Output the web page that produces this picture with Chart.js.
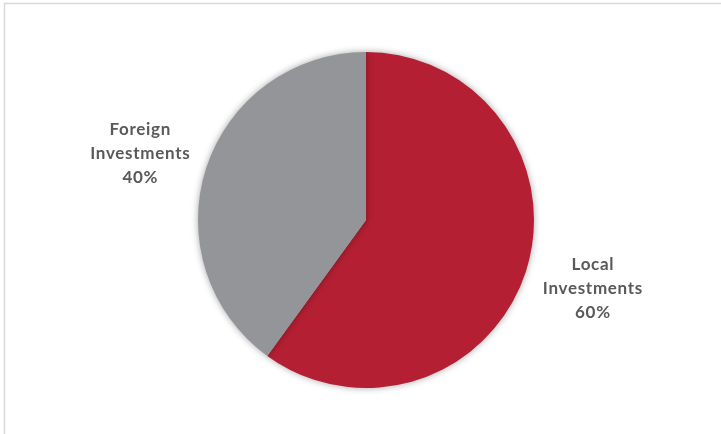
<!DOCTYPE html>
<html>
<head>
<meta charset="utf-8">
<script src="https://cdn.jsdelivr.net/npm/chart.js@4/dist/chart.umd.min.js"></script>
<style>
  html, body { margin: 0; padding: 0; background: #fff; }
  #wrap { width: 721px; height: 434px; position: relative; }
</style>
</head>
<body>
<div id="wrap"><canvas id="c" width="721" height="434"></canvas></div>
<script>
const categories = ["Local Investments", "Foreign Investments"];
const labelLines = [["Local", "Investments"], ["Foreign", "Investments"]];
const values = [60, 40];
const colors = ["#B51F33", "#939598"];

// label placement per slice: [angle in degrees clockwise from top, distance as fraction of radius]
const labelPlacement = [[106.7, 1.41], [286.3, 1.40]];

const framePlugin = {
  id: 'frame',
  beforeDraw(chart) {
    const ctx = chart.ctx;
    ctx.save();
    ctx.fillStyle = '#ffffff';
    ctx.fillRect(0, 0, chart.width, chart.height);
    ctx.strokeStyle = '#d9d9d9';
    ctx.lineWidth = 1.5;
    ctx.strokeRect(4.5, 3.5, chart.width + 20, chart.height + 20);
    ctx.restore();
  },
  beforeDatasetDraw(chart) {
    const ctx = chart.ctx;
    ctx.save();
    ctx.shadowColor = 'rgba(0,0,0,0.35)';
    ctx.shadowBlur = 7;
    ctx.shadowOffsetX = 0;
    ctx.shadowOffsetY = 0;
  },
  afterDatasetDraw(chart) {
    chart.ctx.restore();
  },
  afterDraw(chart) {
    const ctx = chart.ctx;
    const meta = chart.getDatasetMeta(0);
    const total = values.reduce((a, b) => a + b, 0);
    ctx.save();
    ctx.fillStyle = '#595959';
    ctx.font = 'bold 17px Lato, "Open Sans", sans-serif';
    if ('letterSpacing' in ctx) ctx.letterSpacing = '0.7px';
    ctx.textAlign = 'center';
    ctx.textBaseline = 'middle';
    meta.data.forEach((arc, i) => {
      const a = labelPlacement[i][0] * Math.PI / 180;
      const d = arc.outerRadius * labelPlacement[i][1];
      const x = arc.x + Math.sin(a) * d;
      const y = arc.y - Math.cos(a) * d;
      const lines = labelLines[i].concat([Math.round(values[i] / total * 100) + '%']);
      const lh = 24;
      lines.forEach((t, k) => {
        ctx.fillText(t, x, y + (k - (lines.length - 1) / 2) * lh);
      });
    });
    ctx.restore();
  }
};

new Chart(document.getElementById('c'), {
  type: 'pie',
  data: {
    labels: categories,
    datasets: [{
      data: values,
      backgroundColor: colors,
      borderWidth: 0
    }]
  },
  options: {
    responsive: false,
    animation: false,
    layout: { padding: { left: 198, right: 187, top: 52, bottom: 46 } },
    plugins: {
      legend: { display: false },
      tooltip: { enabled: false }
    }
  },
  plugins: [framePlugin]
});
</script>
</body>
</html>
